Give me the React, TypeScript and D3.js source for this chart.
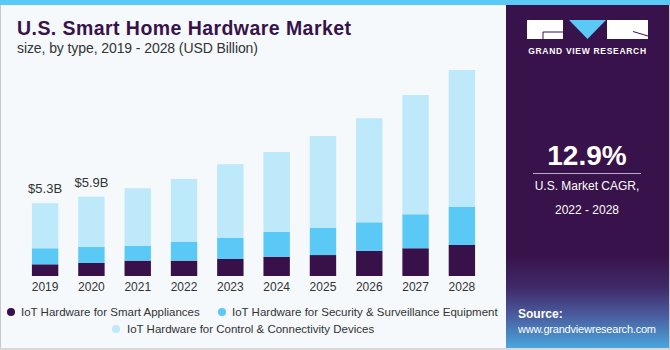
import React, { useEffect, useRef } from "react"
import * as d3 from "d3"

const years = ["2019", "2020", "2021", "2022", "2023", "2024", "2025", "2026", "2027", "2028"]
const smartAppliances = [0.86, 0.96, 1.13, 1.13, 1.25, 1.42, 1.54, 1.84, 2.04, 2.28]
const security = [1.18, 1.18, 1.1, 1.4, 1.57, 1.82, 2.01, 2.11, 2.5, 2.82]
const control = [3.31, 3.7, 4.22, 4.61, 5.4, 5.88, 6.74, 7.65, 8.77, 10.05]
const valueLabels = ["$5.3B", "$5.9B"]

const seriesNames = [
  "IoT Hardware for Smart Appliances",
  "IoT Hardware for Security & Surveillance Equipment",
  "IoT Hardware for Control & Connectivity Devices",
]
const colors = ["#38104a", "#5bc9f6", "#bde9fa"]

const font = "'Liberation Sans', Arial, sans-serif"

export default function App() {
  const ref = useRef<SVGSVGElement>(null)

  useEffect(() => {
    const svg = d3.select(ref.current)
    svg.selectAll("*").remove()

    const rows = years.map((y, i) => ({
      year: y,
      a: smartAppliances[i],
      b: security[i],
      c: control[i],
    }))
    const stack = d3.stack<any>().keys(["a", "b", "c"])(rows)

    const x = d3
      .scaleBand()
      .domain(years)
      .range([12, 495])
      .paddingInner(0.43)
      .paddingOuter(0.43)

    const y = d3.scaleLinear().domain([0, 15]).range([276, 72])

    // backgrounds
    svg.append("rect").attr("width", 670).attr("height", 350).attr("fill", "#f5f9fc")
    svg.append("rect").attr("x", 0).attr("y", 0).attr("width", 1).attr("height", 350).attr("fill", "#c8c8c8")
    svg.append("rect").attr("x", 0).attr("y", 348).attr("width", 670).attr("height", 2).attr("fill", "#d8d8d8")
    svg.append("rect").attr("x", 669).attr("y", 0).attr("width", 1).attr("height", 350).attr("fill", "#c8c8c8")

    const defs = svg.append("defs")
    const grad = defs
      .append("linearGradient")
      .attr("id", "srcgrad")
      .attr("x1", 0)
      .attr("y1", 0)
      .attr("x2", 0)
      .attr("y2", 1)
    grad.append("stop").attr("offset", "0%").attr("stop-color", "#38124a")
    grad.append("stop").attr("offset", "35%").attr("stop-color", "#3f2a68")
    grad.append("stop").attr("offset", "65%").attr("stop-color", "#4a5c9e")
    grad.append("stop").attr("offset", "100%").attr("stop-color", "#4aa6de")

    svg.append("rect").attr("x", 506).attr("y", 0).attr("width", 163).attr("height", 348).attr("fill", "#38124a")
    svg.append("rect").attr("x", 506).attr("y", 255).attr("width", 163).attr("height", 93).attr("fill", "url(#srcgrad)")

    svg.append("rect").attr("x", 0).attr("y", 0).attr("width", 670).attr("height", 5).attr("fill", "#5bc9f6")

    // title
    svg
      .append("text")
      .attr("x", 17)
      .attr("y", 35)
      .attr("font-family", font)
      .attr("font-size", 19.5)
      .attr("font-weight", "bold")
      .attr("fill", "#38124a")
      .attr("textLength", 334)
      .attr("lengthAdjust", "spacing")
      .text("U.S. Smart Home Hardware Market")
    svg
      .append("text")
      .attr("x", 17)
      .attr("y", 53)
      .attr("font-family", font)
      .attr("font-size", 14)
      .attr("fill", "#333")
      .attr("textLength", 241)
      .text("size, by type, 2019 - 2028 (USD Billion)")

    // bars
    svg
      .append("g")
      .selectAll("g")
      .data(stack)
      .join("g")
      .attr("fill", (d, i) => colors[i])
      .selectAll("rect")
      .data(d => d)
      .join("rect")
      .attr("x", d => x(d.data.year)!)
      .attr("y", d => y(d[1]))
      .attr("width", x.bandwidth())
      .attr("height", d => y(d[0]) - y(d[1]))

    const totals = rows.map(r => r.a + r.b + r.c)
    svg
      .append("g")
      .selectAll("text")
      .data(valueLabels)
      .join("text")
      .attr("x", (d, i) => x(years[i])! + x.bandwidth() / 2)
      .attr("y", (d, i) => y(totals[i]) - 10)
      .attr("text-anchor", "middle")
      .attr("font-family", font)
      .attr("font-size", 13)
      .attr("fill", "#333")
      .text(d => d)

    const xAxis = (g: any) =>
      g
        .attr("transform", `translate(0,276)`)
        .call(d3.axisBottom(x).tickSize(0).tickPadding(6))
        .call((g: any) => g.select(".domain").remove())
        .call((g: any) =>
          g.selectAll("text").attr("font-family", font).attr("font-size", 12).attr("fill", "#333")
        )
    svg.append("g").call(xAxis)

    // legend
    const legend = [
      { name: seriesNames[0], cx: 11, cy: 312, tx: 21 },
      { name: seriesNames[1], cx: 222, cy: 312, tx: 232 },
      { name: seriesNames[2], cx: 116, cy: 329, tx: 127 },
    ]
    const lg = svg.append("g").selectAll("g").data(legend).join("g")
    lg.append("circle")
      .attr("cx", d => d.cx)
      .attr("cy", d => d.cy)
      .attr("r", 4)
      .attr("fill", (d, i) => colors[i])
    lg.append("text")
      .attr("x", d => d.tx)
      .attr("y", d => d.cy + 4)
      .attr("font-family", font)
      .attr("font-size", 11.5)
      .attr("fill", "#333")
      .text(d => d.name)

    // logo
    const logo = svg.append("g")
    logo.append("rect").attr("x", 527).attr("y", 20).attr("width", 36).attr("height", 19).attr("fill", "#fff")
    logo
      .append("path")
      .attr("d", "M543,39 L543,32 L563,32")
      .attr("fill", "none")
      .attr("stroke", "#38124a")
      .attr("stroke-width", 1)
    logo.append("path").attr("d", "M569,20 L606,20 L587.5,39 Z").attr("fill", "#5bc9f6")
    logo.append("rect").attr("x", 607).attr("y", 20).attr("width", 41).attr("height", 19).attr("fill", "#fff")
    logo
      .append("path")
      .attr("d", "M633,31.5 L648,36")
      .attr("stroke", "#38124a")
      .attr("stroke-width", 1)
    logo
      .append("text")
      .attr("x", 587.5)
      .attr("y", 54)
      .attr("text-anchor", "middle")
      .attr("font-family", font)
      .attr("font-size", 8.5)
      .attr("font-weight", "bold")
      .attr("letter-spacing", 0.7)
      .attr("fill", "#fff")
      .text("GRAND VIEW RESEARCH")

    // CAGR
    svg
      .append("text")
      .attr("x", 587)
      .attr("y", 165)
      .attr("text-anchor", "middle")
      .attr("font-family", font)
      .attr("font-size", 28)
      .attr("font-weight", "bold")
      .attr("fill", "#fff")
      .text("12.9%")
    svg
      .append("line")
      .attr("x1", 533)
      .attr("x2", 641)
      .attr("y1", 173.5)
      .attr("y2", 173.5)
      .attr("stroke", "#b7a9c6")
      .attr("stroke-width", 1.2)
    svg
      .append("text")
      .attr("x", 587)
      .attr("y", 190)
      .attr("text-anchor", "middle")
      .attr("font-family", font)
      .attr("font-size", 12)
      .attr("fill", "#fff")
      .text("U.S. Market CAGR,")
    svg
      .append("text")
      .attr("x", 587)
      .attr("y", 214)
      .attr("text-anchor", "middle")
      .attr("font-family", font)
      .attr("font-size", 12)
      .attr("fill", "#fff")
      .text("2022 - 2028")

    // source
    svg
      .append("text")
      .attr("x", 518)
      .attr("y", 318)
      .attr("font-family", font)
      .attr("font-size", 12)
      .attr("font-weight", "bold")
      .attr("fill", "#fff")
      .text("Source:")
    svg
      .append("text")
      .attr("x", 518)
      .attr("y", 333)
      .attr("font-family", font)
      .attr("font-size", 11)
      .attr("fill", "#fff")
      .attr("textLength", 138)
      .text("www.grandviewresearch.com")
  }, [])

  return (
    <svg
      ref={ref}
      width={670}
      height={350}
      style={{ position: "absolute", left: 0, top: 0, display: "block" }}
    ></svg>
  )
}
